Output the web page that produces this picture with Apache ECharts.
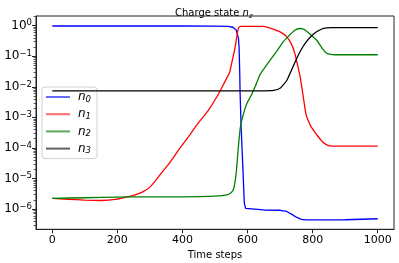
<!DOCTYPE html>
<html>
<head>
<meta charset="utf-8">
<script src="https://cdn.jsdelivr.net/npm/echarts@6/dist/echarts.min.js"></script>
<style>html,body{margin:0;padding:0;background:#fff;}#c{width:399px;height:263px;}</style>
</head>
<body>
<div id="c"></div>
<script>
// ---- data ----
const seriesNames = ['n0', 'n1', 'n2', 'n3'];
const subs = ['0', '1', '2', '3'];
const colors = ['#0000ff', '#ff0000', '#008000', '#000000'];
const legendColors = ['#6a6aff', '#ff6a6a', '#5aaa5a', '#606060'];

const t0 = [0,100,200,300,400,500,540,555,565,572,574,576,577,580,585,590,594,598,650,700,720,735,750,765,780,850,900,1000];
const n0 = [0.977,0.977,0.977,0.977,0.977,0.973,0.955,0.89,0.72,0.4,0.19,0.03,7e-3,5.6e-4,3.2e-5,1.55e-6,1.05e-6,9.4e-7,9.3e-7,9.1e-7,8.3e-7,6.8e-7,5.4e-7,4.6e-7,4.4e-7,4.4e-7,4.45e-7,4.8e-7];

const t1 = [0,50,100,150,200,230,250,275,300,320,340,360,390,420,450,480,510,530,545,555,562,568,572,576,580,600,650,680,700,720,735,745,755,762,768,775,780,787,795,805,815,830,845,860,900,1000];
const n1 = [2.24e-6,2.09e-6,1.95e-6,1.9e-6,2.1e-6,2.5e-6,2.8e-6,3.5e-6,5.2e-6,9.3e-6,1.75e-5,3.2e-5,9.1e-5,2.45e-4,6.8e-4,1.74e-3,5.6e-3,0.0145,0.030,0.091,0.2,0.52,0.83,0.93,0.955,0.955,0.944,0.76,0.63,0.44,0.25,0.126,0.045,0.02,7.9e-3,2.5e-3,1.2e-3,7.6e-4,5e-4,3.5e-4,2.5e-4,1.6e-4,1.23e-4,1.15e-4,1.15e-4,1.15e-4];

const t2 = [0,100,200,300,400,500,540,550,556,561,566,571,576,580,585,592,600,612,625,638,660,690,710,730,745,760,770,780,795,812,830,843,855,870,900,1000];
const n2 = [2.24e-6,2.34e-6,2.45e-6,2.51e-6,2.51e-6,2.63e-6,2.95e-6,3.47e-6,4.17e-6,7.1e-6,1.9e-5,8.5e-5,3.2e-4,6.3e-4,1.05e-3,1.9e-3,3.16e-3,5.4e-3,0.0112,0.0245,0.054,0.148,0.30,0.50,0.71,0.81,0.79,0.68,0.50,0.34,0.178,0.126,0.115,0.112,0.112,0.112];

const t3 = [0,500,650,680,700,720,735,751,765,781,797,812,828,843,860,900,1000];
const n3 = [7.4e-3,7.4e-3,7.4e-3,7.6e-3,8.9e-3,0.0158,0.035,0.085,0.166,0.30,0.47,0.63,0.78,0.85,0.86,0.86,0.86];

const xTicks = [0, 200, 400, 600, 800, 1000];
const yDecades = [-6, -5, -4, -3, -2, -1, 0];
const xRange = [-50, 1050];
const yRange = [-6.664, 0.3175]; // log10 extent

// ---- build ----
const allT = [t0, t1, t2, t3];
const allN = [n0, n1, n2, n3];
const minorTicks = [];
for (let d = -7; d <= 0; d++) {
  for (let k = 2; k <= 9; k++) {
    const v = d + Math.log10(k);
    if (v > yRange[0] && v < yRange[1]) minorTicks.push(v);
  }
}
const FONT = 'DejaVu Sans';

const chart = echarts.init(document.getElementById('c'), null, {renderer: 'canvas'});
chart.setOption({
  animation: false,
  backgroundColor: '#fff',
  title: {
    text: '{a|Charge state }{i|n}{s|z}',
    left: 170, top: 1,
    textStyle: {
      fontWeight: 'normal',
      rich: {
        a: {fontFamily: FONT, fontSize: 10, fontWeight: 'normal', color: '#000', lineHeight: 14},
        i: {fontFamily: FONT, fontSize: 10, fontWeight: 'normal', fontStyle: 'italic', color: '#000', lineHeight: 14},
        s: {fontFamily: FONT, fontSize: 7, fontWeight: 'normal', fontStyle: 'italic', color: '#000', verticalAlign: 'bottom', lineHeight: 14, padding: [3, 0, 0, 0]}
      }
    }
  },
  grid: {left: 36, top: 16, right: 5, bottom: 33.7, show: true, borderColor: '#222', borderWidth: 1, outerBoundsMode: 'none'},
  legend: {
    orient: 'vertical', left: 42, top: 87,
    padding: [3, 6, 3, 4],
    itemGap: 3.2, itemWidth: 24, itemHeight: 2,
    icon: 'rect',
    backgroundColor: 'rgba(255,255,255,0.85)', borderColor: '#d0d0d0', borderWidth: 1, borderRadius: 3,
    data: seriesNames.map((n, i) => ({name: n, itemStyle: {color: legendColors[i]}})),
    formatter: name => '{i|n}{s|' + subs[seriesNames.indexOf(name)] + '}',
    textStyle: {
      lineHeight: 14,
      rich: {
        i: {fontFamily: FONT, fontSize: 12, fontStyle: 'italic', color: '#000', lineHeight: 14, padding: [0, 0, 0, 3]},
        s: {fontFamily: FONT, fontSize: 8.5, fontStyle: 'italic', color: '#000', verticalAlign: 'bottom', lineHeight: 14, padding: [4, 0, 0, 0]}
      }
    }
  },
  xAxis: {
    type: 'value', min: xRange[0], max: xRange[1],
    name: 'Time steps', nameLocation: 'middle', nameGap: 16,
    nameTextStyle: {fontFamily: FONT, fontSize: 10, color: '#000'},
    axisLine: {show: true, onZero: false, lineStyle: {color: '#222', width: 1}},
    axisTick: {show: true, inside: false, length: 4, customValues: xTicks, lineStyle: {color: '#222'}},
    axisLabel: {customValues: xTicks, margin: 5, fontFamily: FONT, fontSize: 11, color: '#000', formatter: v => String(v)},
    splitLine: {show: false}
  },
  yAxis: [{
    type: 'value', min: yRange[0], max: yRange[1],
    axisLine: {show: true, onZero: false, lineStyle: {color: '#222', width: 1}},
    axisTick: {show: true, inside: false, length: 4, customValues: yDecades, lineStyle: {color: '#222'}},
    axisLabel: {
      customValues: yDecades, margin: 4,
      formatter: v => {
        const e = String(Math.round(v)).replace('-', '\u2212');
        return '{b|10}{p|' + e + '}';
      },
      rich: {
        b: {fontFamily: FONT, fontSize: 12, color: '#000', lineHeight: 14},
        p: {fontFamily: FONT, fontSize: 8.5, color: '#000', verticalAlign: 'top', lineHeight: 14, padding: [0, 0, 5, 0]}
      }
    },
    splitLine: {show: false}
  }, {
    type: 'value', min: yRange[0], max: yRange[1], position: 'left', offset: 0,
    axisLine: {show: false, onZero: false},
    axisTick: {show: true, inside: false, length: 2.5, customValues: minorTicks, lineStyle: {color: '#333', width: 0.8}},
    axisLabel: {show: false},
    splitLine: {show: false}
  }],
  series: seriesNames.map((name, i) => ({
    name: name,
    type: 'line',
    yAxisIndex: 0,
    data: allT[i].map((t, j) => [t, Math.log10(allN[i][j])]),
    showSymbol: false, symbol: 'none',
    smooth: i === 0 ? false : 0.15,
    lineStyle: {color: colors[i], width: 1.3},
    itemStyle: {color: colors[i]},
    z: 2 + i
  }))
});
</script>
</body>
</html>
